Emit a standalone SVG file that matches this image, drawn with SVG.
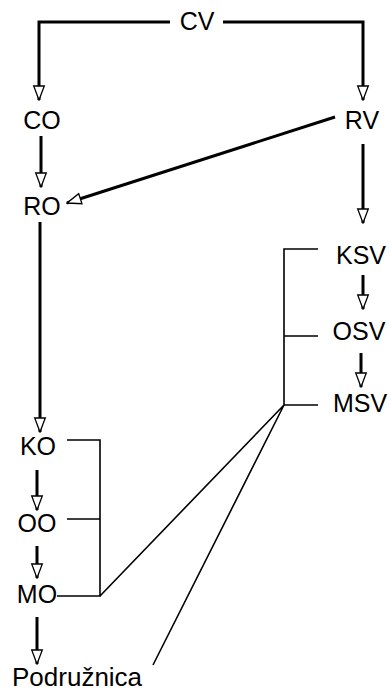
<svg xmlns="http://www.w3.org/2000/svg" width="389" height="692" viewBox="0 0 389 692">
<style>
text{font-family:"Liberation Sans",Arial,sans-serif;font-size:25px;fill:#000}
.a{fill:none;stroke:#000;stroke-width:3;marker-end:url(#h)}
.t{fill:none;stroke:#000;stroke-width:1.6}
</style>
<defs>
<marker id="h" markerUnits="userSpaceOnUse" markerWidth="16" markerHeight="14" viewBox="-15 -7 16 14" refX="0" refY="0" orient="auto">
<path d="M0,0 L-14,-5.3 L-14,5.3 Z" fill="#fff" stroke="#000" stroke-width="1.3"/>
</marker>
</defs>
<rect width="389" height="692" fill="#fff"/>
<g id="connectors">
<path class="a" d="M170,22 H39 V100"/>
<path class="a" d="M223,22 H363 V100"/>
<path class="a" d="M41,136 V187"/>
<path class="a" d="M335,117 L67,203"/>
<path class="a" d="M363,144 V223"/>
<path class="a" d="M40,222 V432"/>
<path class="a" d="M37,470 V510"/>
<path class="a" d="M37,546 V578"/>
<path class="a" d="M37,617 V664"/>
<path class="a" d="M363,275 V309"/>
<path class="a" d="M361,353 V387"/>
<path class="t" d="M318,249 H284 V405 H318 M284,336 H318"/>
<path class="t" d="M67,440 H100 V596 H57 M67,519 H100"/>
<path class="t" d="M284,405 L100,596 M284,405 L153,665"/>
</g>
<g id="CV"><text x="197" y="30" text-anchor="middle">CV</text></g>
<g id="CO"><text x="42" y="129" text-anchor="middle">CO</text></g>
<g id="RV"><text x="362" y="129" text-anchor="middle">RV</text></g>
<g id="RO"><text x="42" y="215" text-anchor="middle">RO</text></g>
<g id="KO"><text x="38" y="455" text-anchor="middle">KO</text></g>
<g id="OO"><text x="37" y="532" text-anchor="middle">OO</text></g>
<g id="MO"><text x="37" y="603" text-anchor="middle">MO</text></g>
<g id="Podruznica"><text x="12" y="686" style="font-size:26px">Podružnica</text></g>
<g id="KSV"><text x="361" y="264" text-anchor="middle">KSV</text></g>
<g id="OSV"><text x="359" y="340" text-anchor="middle">OSV</text></g>
<g id="MSV"><text x="360" y="412" text-anchor="middle">MSV</text></g>
</svg>
